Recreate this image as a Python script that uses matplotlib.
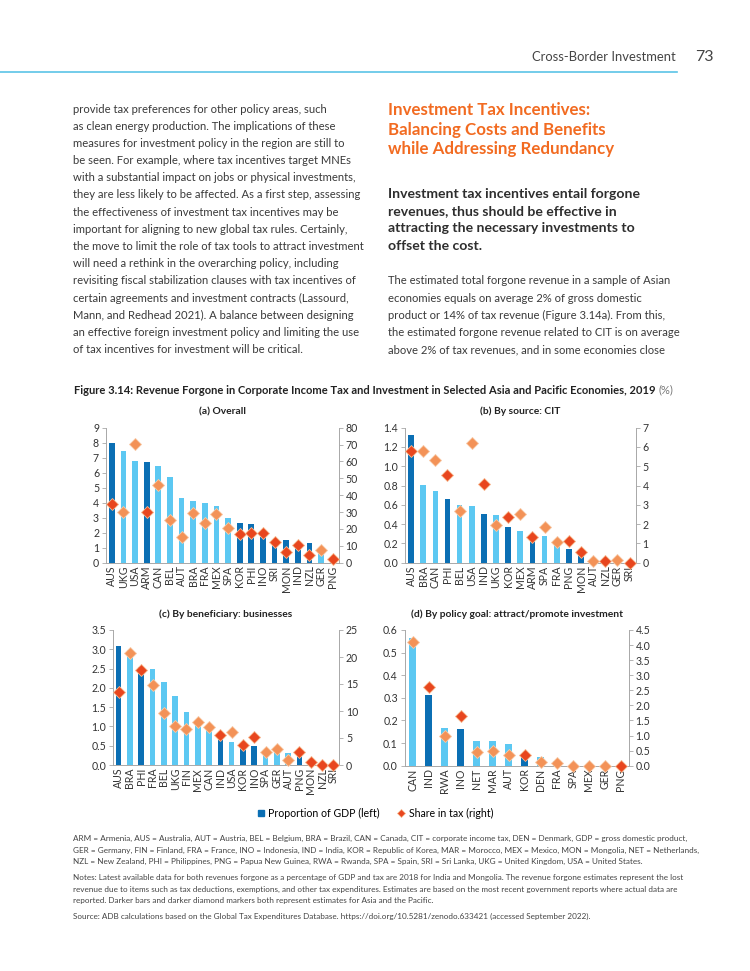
import matplotlib
matplotlib.use("Agg")
import matplotlib.pyplot as plt
from matplotlib.lines import Line2D
from matplotlib.ticker import FormatStrFormatter

plt.rcParams["font.family"] = ["Lato", "DejaVu Sans"]

# ---------------- data ----------------
asia_pacific = ["AUS", "ARM", "KOR", "PHI", "INO", "SRI", "MON", "IND", "NZL", "PNG"]

a_econ = ["AUS", "UKG", "USA", "ARM", "CAN", "BEL", "AUT", "BRA", "FRA", "MEX",
          "SPA", "KOR", "PHI", "INO", "SRI", "MON", "IND", "NZL", "GER", "PNG"]
a_gdp = [8.0, 7.47, 6.78, 6.72, 6.44, 5.69, 4.33, 4.12, 3.97, 3.78,
         2.98, 2.63, 2.56, 1.69, 1.45, 1.49, 1.25, 1.32, 0.88, 0.29]
a_tax = [35.0, 30.0, 70.6, 30.0, 46.2, 25.3, 15.4, 29.2, 23.7, 28.6,
         20.5, 17.0, 17.4, 17.4, 12.4, 6.3, 10.3, 4.7, 7.3, 2.2]

b_econ = ["AUS", "BRA", "CAN", "PHI", "BEL", "USA", "IND", "UKG", "KOR", "MEX",
          "ARM", "SPA", "FRA", "PNG", "MON", "AUT", "NZL", "GER", "SRI"]
b_gdp = [1.32, 0.81, 0.74, 0.66, 0.60, 0.59, 0.50, 0.49, 0.37, 0.33,
         0.30, 0.28, 0.18, 0.14, 0.11, 0.005, 0.005, 0.005, 0.0]
b_tax = [5.79, 5.79, 5.32, 4.53, 2.66, 6.22, 4.08, 1.97, 2.39, 2.52,
         1.35, 1.87, 1.07, 1.12, 0.55, 0.07, 0.07, 0.12, 0.0]

c_econ = ["AUS", "BRA", "PHI", "FRA", "BEL", "UKG", "FIN", "MEX", "CAN", "IND",
          "USA", "KOR", "INO", "SPA", "GER", "AUT", "PNG", "MON", "NZL", "SRI"]
c_gdp = [3.09, 2.97, 2.55, 2.48, 2.14, 1.80, 1.38, 1.17, 0.99, 0.67,
         0.59, 0.54, 0.49, 0.35, 0.35, 0.30, 0.36, 0.07, 0.005, 0.0]
c_tax = [13.5, 20.7, 17.6, 14.8, 9.6, 7.2, 6.7, 8.0, 7.0, 5.6,
         6.1, 3.7, 5.2, 2.5, 3.0, 1.0, 2.5, 0.5, 0.0, 0.0]

d_econ = ["CAN", "IND", "RWA", "INO", "NET", "MAR", "AUT", "KOR", "DEN", "FRA",
          "SPA", "MEX", "GER", "PNG"]
d_gdp = [0.566, 0.314, 0.167, 0.161, 0.108, 0.108, 0.096, 0.050, 0.040, 0.019,
         0.002, 0.001, 0.001, 0.0]
d_tax = [4.09, 2.61, 0.98, 1.64, 0.44, 0.50, 0.34, 0.34, 0.11, 0.08,
         0.0, 0.0, 0.0, 0.0]

# ---------------- style ----------------
c_dark = "#0B6FB4"
c_light = "#5CC8F2"
m_dark = "#E8461E"
m_light = "#F39257"
c_axis = "#A8A8A8"
c_text = "#333333"

W, H = 750, 971
fig = plt.figure(figsize=(W / 100, H / 100), dpi=100)
fig.patch.set_facecolor("white")


def fy(py):
    return 1 - py / H


def fx(px):
    return px / W


def panel(rect, econ, gdp, tax, lmax, lstep, rmax, rstep, width, lfmt, rfmt, title):
    l, t, r, b = rect
    ax = fig.add_axes([fx(l), fy(b), fx(r - l), (b - t) / H])
    ax2 = ax.twinx()
    x = range(len(econ))
    bar_cols = [c_dark if e in asia_pacific else c_light for e in econ]
    ax.bar(x, gdp, width=width, color=bar_cols, zorder=2)
    for i, e in enumerate(econ):
        dark = e in asia_pacific
        ax2.plot(i, tax[i], marker="D", markersize=5.8, linestyle="none",
                 color=m_dark if dark else m_light,
                 markeredgecolor="#F7B98F" if dark else "#F8C9A6",
                 markeredgewidth=0.6, clip_on=False, zorder=4)
    ax.set_xlim(-0.5, len(econ) - 0.5)
    ax.set_ylim(0, lmax)
    ax2.set_ylim(0, rmax)
    n_l = int(round(lmax / lstep))
    n_r = int(round(rmax / rstep))
    ax.set_yticks([k * lstep for k in range(n_l + 1)])
    ax2.set_yticks([k * rstep for k in range(n_r + 1)])
    ax.yaxis.set_major_formatter(FormatStrFormatter(lfmt))
    ax2.yaxis.set_major_formatter(FormatStrFormatter(rfmt))
    ax.set_xticks(list(x))
    ax.set_xticklabels(econ, rotation=90, fontsize=7.6, color=c_text)
    for a in (ax, ax2):
        a.spines["top"].set_visible(False)
        for s in ("left", "right", "bottom"):
            a.spines[s].set_color(c_axis)
            a.spines[s].set_linewidth(0.6)
        a.tick_params(axis="y", length=3, width=0.6, color=c_axis,
                      labelsize=7.6, labelcolor=c_text, pad=2)
    ax.tick_params(axis="x", length=0, pad=2)
    ax.set_zorder(1)
    ax2.set_zorder(2)
    ax.patch.set_visible(False)
    fig.text(fx((l + r) / 2), fy(t - 16), title, ha="center", va="center",
             fontsize=7.4, fontweight="bold", color="#222222")


panel((106, 427.7, 338.5, 562.7), a_econ, a_gdp, a_tax, 9, 1, 80, 10, 0.5,
      "%d", "%d", "(a) Overall")
panel((405, 427.7, 635.7, 562.7), b_econ, b_gdp, b_tax, 1.4, 0.2, 7, 1, 0.47,
      "%.1f", "%d", "(b) By source: CIT")
panel((113, 630, 339, 765), c_econ, c_gdp, c_tax, 3.5, 0.5, 25, 5, 0.5,
      "%.1f", "%d", "(c) By beneficiary: businesses")
panel((404.7, 630, 628.7, 765.7), d_econ, d_gdp, d_tax, 0.6, 0.1, 4.5, 0.5, 0.42,
      "%.1f", "%.1f", "(d) By policy goal: attract/promote investment")

# legend
fig.legend(handles=[
    Line2D([0], [0], marker="s", linestyle="none", color=c_dark, markersize=5,
           label="Proportion of GDP (left)"),
    Line2D([0], [0], marker="D", linestyle="none", color=m_dark, markersize=4,
           markeredgecolor="#F7B98F", markeredgewidth=0.5,
           label="Share in tax (right)"),
], loc="center", bbox_to_anchor=(fx(375), fy(813)), ncol=2, frameon=False,
   fontsize=7.6, handlelength=0.8, handletextpad=0.3, columnspacing=1.6)

# ---------------- page text ----------------
fig.add_artist(Line2D([0, fx(677)], [fy(72.5), fy(72.5)], color="#5BC3E6", linewidth=1.2))
fig.text(fx(676), fy(57), "Cross-Border Investment", ha="right", va="center",
         fontsize=9.4, color="#444444")
fig.text(fx(695), fy(57), "73", ha="left", va="center", fontsize=11.5, color="#444444")

left_lines = [
    "provide tax preferences for other policy areas, such",
    "as clean energy production. The implications of these",
    "measures for investment policy in the region are still to",
    "be seen. For example, where tax incentives target MNEs",
    "with a substantial impact on jobs or physical investments,",
    "they are less likely to be affected. As a first step, assessing",
    "the effectiveness of investment tax incentives may be",
    "important for aligning to new global tax rules. Certainly,",
    "the move to limit the role of tax tools to attract investment",
    "will need a rethink in the overarching policy, including",
    "revisiting fiscal stabilization clauses with tax incentives of",
    "certain agreements and investment contracts (Lassourd,",
    "Mann, and Redhead 2021). A balance between designing",
    "an effective foreign investment policy and limiting the use",
    "of tax incentives for investment will be critical.",
]
for i, line in enumerate(left_lines):
    fig.text(fx(73), fy(109 + 17.2 * i), line, ha="left", va="center",
             fontsize=8.15, color="#3A3A3A")

head_lines = ["Investment Tax Incentives:", "Balancing Costs and Benefits",
              "while Addressing Redundancy"]
for i, line in enumerate(head_lines):
    fig.text(fx(388), fy(110 + 19.6 * i), line, ha="left", va="center",
             fontsize=12.2, fontweight="bold", color="#F26B21")

sub_lines = ["Investment tax incentives entail forgone",
             "revenues, thus should be effective in",
             "attracting the necessary investments to",
             "offset the cost."]
for i, line in enumerate(sub_lines):
    fig.text(fx(388), fy(194 + 17.2 * i), line, ha="left", va="center",
             fontsize=10.1, fontweight="bold", color="#2E2E2E")

right_lines = [
    "The estimated total forgone revenue in a sample of Asian",
    "economies equals on average 2% of gross domestic",
    "product or 14% of tax revenue (Figure 3.14a). From this,",
    "the estimated forgone revenue related to CIT is on average",
    "above 2% of tax revenues, and in some economies close",
]
for i, line in enumerate(right_lines):
    fig.text(fx(388), fy(281 + 17.2 * i), line, ha="left", va="center",
             fontsize=8.15, color="#3A3A3A")

# figure title
t1 = fig.text(fx(74), fy(390),
              "Figure 3.14: Revenue Forgone in Corporate Income Tax and Investment "
              "in Selected Asia and Pacific Economies, 2019",
              ha="left", va="center", fontsize=8.05, fontweight="bold", color="#222222")
fig.canvas.draw()
bb = t1.get_window_extent()
fig.text(bb.x1 / W + fx(3), fy(390), "(%)", ha="left", va="center",
         fontsize=8.05, color="#777777")

notes = [
    (838, "ARM = Armenia, AUS = Australia, AUT = Austria, BEL = Belgium, BRA = Brazil, CAN = Canada, "
          "CIT = corporate income tax, DEN = Denmark, GDP = gross domestic product,"),
    (850, "GER = Germany, FIN = Finland, FRA = France, INO = Indonesia, IND = India, KOR = Republic of Korea, "
          "MAR = Morocco, MEX = Mexico, MON = Mongolia, NET = Netherlands,"),
    (861, "NZL = New Zealand, PHI = Philippines, PNG = Papua New Guinea, RWA = Rwanda, SPA = Spain, "
          "SRI = Sri Lanka, UKG = United Kingdom, USA = United States."),
    (877, "Notes: Latest available data for both revenues forgone as a percentage of GDP and tax are 2018 "
          "for India and Mongolia. The revenue forgone estimates represent the lost"),
    (889, "revenue due to items such as tax deductions, exemptions, and other tax expenditures. Estimates "
          "are based on the most recent government reports where actual data are"),
    (900, "reported. Darker bars and darker diamond markers both represent estimates for Asia and the Pacific."),
    (916, "Source: ADB calculations based on the Global Tax Expenditures Database. "
          "https://doi.org/10.5281/zenodo.633421 (accessed September 2022)."),
]
for y, line in notes:
    fig.text(fx(73), fy(y), line, ha="left", va="center", fontsize=5.85, color="#444444")

fig.savefig("out.png", dpi=100, facecolor="white")
